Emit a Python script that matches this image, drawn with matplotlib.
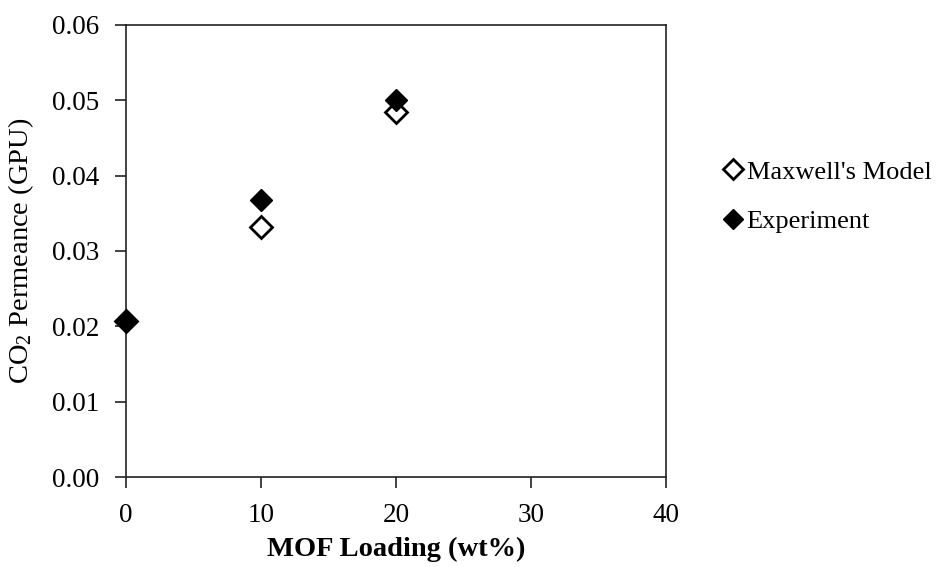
import matplotlib
matplotlib.use("Agg")
import matplotlib.pyplot as plt
from matplotlib.ticker import FormatStrFormatter

plt.rcParams['font.family'] = ['Liberation Serif', 'DejaVu Serif']
plt.rcParams['mathtext.fontset'] = 'custom'
plt.rcParams['mathtext.rm'] = 'Liberation Serif'
plt.rcParams['mathtext.it'] = 'Liberation Serif:italic'

# MOF loading (wt%) and CO2 permeance (GPU)
loading = [0, 10, 20]
maxwell = [0.0207, 0.0332, 0.0484]
experiment = [0.0207, 0.0368, 0.0501]

x_ticks = [0, 10, 20, 30, 40]
y_ticks = [0.00, 0.01, 0.02, 0.03, 0.04, 0.05, 0.06]

fig = plt.figure(figsize=(9.44, 5.67), dpi=100)
ax = fig.add_axes([0.1335, 0.1587, 0.572, 0.7973])

ax.plot(loading, maxwell, linestyle='none', marker='D', markersize=11.5,
        markerfacecolor='white', markeredgecolor='black', markeredgewidth=2,
        label="Maxwell's Model", zorder=3, clip_on=False)
ax.plot(loading, experiment, linestyle='none', marker='D', markersize=11.5,
        color='black', label='Experiment', zorder=4, clip_on=False)

ax.set_xlim(0, 40)
ax.set_ylim(0, 0.06)
ax.set_xticks(x_ticks)
ax.set_yticks(y_ticks)
ax.yaxis.set_major_formatter(FormatStrFormatter('%.2f'))

for s in ax.spines.values():
    s.set_linewidth(1.2)
    s.set_color('#222222')
ax.tick_params(direction='out', length=8, width=1.2, color='#222222',
               labelsize=19.5, pad=11)

ax.set_xlabel('MOF Loading (wt%)', fontsize=20.5, fontweight='bold', labelpad=6)
ax.set_ylabel('CO$_2$ Permeance (GPU)', fontsize=20.5, labelpad=12)

fig.legend(loc='center left', bbox_to_anchor=(0.756, 0.653), frameon=False,
           fontsize=19, handlelength=0.5, handletextpad=0.25, labelspacing=1.0,
           borderpad=0, markerscale=0.85)

fig.savefig('out.png', dpi=100)
